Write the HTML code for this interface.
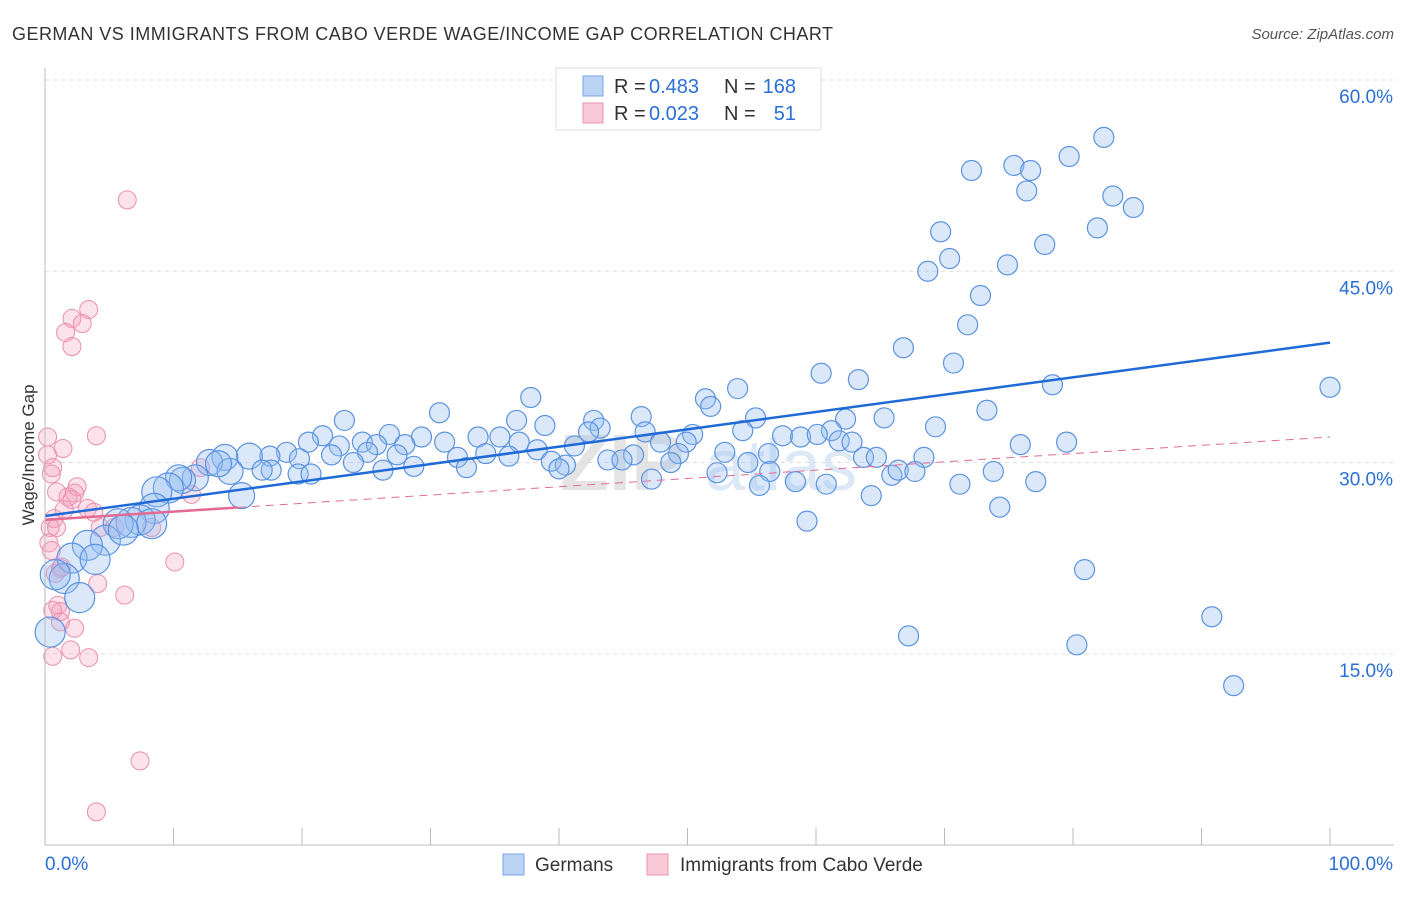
<!DOCTYPE html>
<html><head><meta charset="utf-8"><style>
body{margin:0;background:#fff;font-family:"Liberation Sans",sans-serif;}
svg text{font-family:"Liberation Sans",sans-serif;}
</style></head><body>
<svg id="chart" width="1406" height="892">
<text x="12" y="40" font-size="18" fill="#333" textLength="821">GERMAN VS IMMIGRANTS FROM CABO VERDE WAGE/INCOME GAP CORRELATION CHART</text>
<text x="1394" y="39" font-size="15" fill="#555" text-anchor="end" font-style="italic">Source: ZipAtlas.com</text>
<text x="560" y="490" font-size="80" fill="#e4e4e4" font-family="Liberation Serif" font-weight="bold">ZIP</text>
<text x="705" y="490" font-size="72" fill="#dce8f6">atlas</text>
<g id="grid"></g><g id="marks"></g><g id="axes"></g>
<text transform="translate(34,455) rotate(-90)" font-size="17" fill="#333" text-anchor="middle">Wage/Income Gap</text>
<g>
<rect x="556" y="68" width="265" height="62" fill="#fff" stroke="#ddd"/>
<rect x="583" y="76" width="20" height="20" fill="#bcd4f4" stroke="#7aa6e6"/>
<rect x="583" y="103" width="20" height="20" fill="#f9c9d7" stroke="#eb95b0"/>
<text x="614" y="93" font-size="20" fill="#333">R =</text>
<text x="649" y="93" font-size="20" fill="#2a6fd6">0.483</text>
<text x="724" y="93" font-size="20" fill="#333">N =</text>
<text x="796" y="93" font-size="20" fill="#2a6fd6" text-anchor="end">168</text>
<text x="614" y="120" font-size="20" fill="#333">R =</text>
<text x="649" y="120" font-size="20" fill="#2a6fd6">0.023</text>
<text x="724" y="120" font-size="20" fill="#333">N =</text>
<text x="796" y="120" font-size="20" fill="#2a6fd6" text-anchor="end">51</text>
</g>
<g>
<rect x="503" y="854" width="21" height="21" fill="#bcd4f4" stroke="#7aa6e6"/>
<text x="535" y="871" font-size="19" fill="#333">Germans</text>
<rect x="647" y="854" width="21" height="21" fill="#f9c9d7" stroke="#eb95b0"/>
<text x="680" y="871" font-size="19" fill="#333">Immigrants from Cabo Verde</text>
</g>
</svg>
<script>
const blueX=[82.4,79.7,75.4,76.7,72.1,83.1,76.4,84.7,81.9,69.7,77.8,70.4,68.7,74.9,72.8,71.8,66.8,70.7,60.4,63.3,78.4,100,53.9,51.4,51.8,73.3,65.3,62.3,55.3,46.4,42.7,36.7,30.7,37.8,23.3,69.3,54.3,61.2,43.2,38.9,26.8,24.7,21.6,57.4,58.8,60.1,61.8,62.8,79.5,75.9,50.4,49.9,46.7,47.9,42.3,35.4,36.9,33.7,31.1,29.3,28.0,25.8,22.9,20.5,18.8,17.5,19.8,15.9,14.0,12.8,25.1,27.4,32.1,34.3,36.1,38.3,41.2,45.8,49.3,52.9,56.3,63.7,64.7,68.4,22.3,24.0,26.3,28.7,32.8,39.4,40.5,43.8,44.9,48.7,54.7,56.4,52.3,40.0,47.2,65.9,66.4,67.7,73.8,55.6,58.4,60.8,71.2,77.1,64.3,74.3,59.3,80.9,90.8,67.2,80.3,92.5,15.3,17.6,19.7,20.7,16.9,14.4,13.5,11.7,10.7,10.4,9.6,8.7,8.5,7.4,6.7,5.7,4.7,3.3,2.1,3.9,1.5,2.7,0.4,0.8,8.3,6.1];
const blueY=[55.5,54.0,53.3,52.9,52.9,50.9,51.3,50.0,48.4,48.1,47.1,46.0,45.0,45.5,43.1,40.8,39.0,37.8,37.0,36.5,36.1,35.9,35.8,35.0,34.4,34.1,33.5,33.4,33.5,33.6,33.3,33.3,33.9,35.1,33.3,32.8,32.5,32.5,32.7,32.9,32.2,31.6,32.1,32.1,32.0,32.2,31.7,31.6,31.6,31.4,32.2,31.6,32.4,31.6,32.4,32.0,31.6,32.0,31.6,32.0,31.4,31.4,31.3,31.6,30.8,30.5,30.3,30.5,30.4,30.0,30.8,30.6,30.4,30.7,30.5,31.0,31.3,30.6,30.7,30.8,30.7,30.4,30.4,30.4,30.6,30.0,29.4,29.7,29.6,30.1,29.8,30.2,30.2,30.0,30.0,29.3,29.2,29.5,28.7,29.0,29.4,29.3,29.3,28.2,28.5,28.3,28.3,28.5,27.4,26.5,25.4,21.6,17.9,16.4,15.7,12.5,27.4,29.4,29.1,29.1,29.4,29.3,29.9,28.8,28.6,28.8,28.0,27.7,26.4,25.5,25.3,25.2,23.9,23.5,22.5,22.4,20.9,19.4,16.7,21.2,25.2,24.7];
const pinkX=[6.4,3.4,2.1,2.9,1.6,2.1,4.0,0.2,1.4,0.2,0.6,0.5,2.5,2.3,0.9,1.8,2.1,3.3,3.8,0.7,1.5,12.1,11.4,8.3,0.4,0.9,0.3,0.5,10.1,1.2,0.8,1.3,4.1,6.2,1.0,1.2,0.6,2.3,1.2,2.0,0.6,3.4,7.4,4.0,5.4,4.3];
const pinkY=[50.6,42.0,41.3,40.9,40.2,39.1,32.1,32.0,31.1,30.6,29.6,29.1,28.1,27.6,27.7,27.3,27.1,26.4,26.1,25.6,26.3,29.6,27.5,24.9,24.9,24.9,23.7,23.1,22.2,21.7,21.3,21.8,20.5,19.6,18.8,18.3,18.4,17.0,17.5,15.3,14.8,14.7,6.6,2.6,24.9,24.9];
const yTicks=[15,30,45,60];
const trendBlue=[25.8,39.4];
const trendPink=[25.5,32.0];
const NS='http://www.w3.org/2000/svg';
const sx=v=>45+v*12.85, sy=v=>845-v*12.75;
function mk(t,a,p){const e=document.createElementNS(NS,t);for(const k in a)e.setAttribute(k,a[k]);p.appendChild(e);return e;}
const grid=document.getElementById('grid'),marks=document.getElementById('marks'),axes=document.getElementById('axes');
yTicks.forEach(t=>{
 const l=mk('line',{x1:45,x2:1394,y1:sy(t),y2:sy(t),stroke:'#ddd','stroke-dasharray':'4,4'},grid);
 
 
 const tx=mk('text',{x:1393,y:sy(t)+23,'font-size':19,fill:'#2a6fd6','text-anchor':'end'},axes);
 tx.textContent=t.toFixed(1)+'%';
 
 
});
const ax=mk('line',{x1:45,x2:45,y1:68,y2:845,stroke:'#bbb'},axes);


const bx=mk('line',{x1:45,x2:1394,y1:845,y2:845,stroke:'#bbb'},axes);


for(let i=0;i<=10;i++){const tk=mk('line',{x1:sx(i*10),x2:sx(i*10),y1:828,y2:845,stroke:'#bbb'},axes);
 
 }
const xl=mk('text',{x:45,y:870,'font-size':19,fill:'#2a6fd6'},axes);xl.textContent='0.0%';


const xr=mk('text',{x:1393,y:870,'font-size':19,fill:'#2a6fd6','text-anchor':'end'},axes);xr.textContent='100.0%';


pinkX.forEach((x,i)=>{const c=mk('circle',{cx:sx(x),cy:sy(pinkY[i]),r:9,fill:'rgba(244,160,188,0.3)',stroke:'#ea8fae','stroke-width':1},marks);
 
 });
blueX.forEach((x,i)=>{const r=x<16?(x<10?15:13):10;const c=mk('circle',{cx:sx(x),cy:sy(blueY[i]),r:r,fill:'rgba(150,190,240,0.35)',stroke:'#5b93e0','stroke-width':1.2},marks);
 
 });
const tb=mk('line',{x1:sx(0),y1:sy(trendBlue[0]),x2:sx(100),y2:sy(trendBlue[1]),stroke:'#1f6ad6','stroke-width':2.5},marks);


const pAt=x=>trendPink[0]+(trendPink[1]-trendPink[0])*x/100;
const tpd=mk('line',{x1:sx(15),y1:sy(pAt(15)),x2:sx(100),y2:sy(pAt(100)),stroke:'#e36b93','stroke-width':1,'stroke-dasharray':'8,6'},marks);


const tp=mk('line',{x1:sx(0),y1:sy(pAt(0)),x2:sx(15),y2:sy(pAt(15)),stroke:'#e36b93','stroke-width':2.5},marks);


</script>
</body></html>
